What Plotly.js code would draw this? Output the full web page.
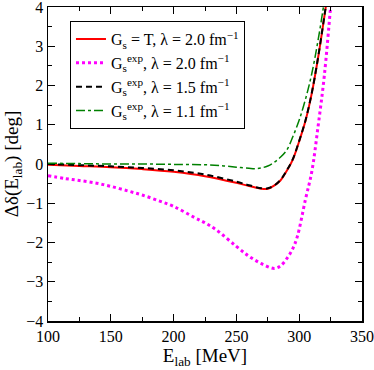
<!DOCTYPE html>
<html>
<head>
<meta charset="utf-8">
<script src="https://cdn.plot.ly/plotly-3.0.1.min.js"></script>
<style>body{margin:0;background:#fff;} #plot{width:374px;height:370px;}</style>
</head>
<body>
<div id="plot"></div>
<script>
// Energies (MeV) and phase-shift differences (deg)
var eRed = [100, 125, 150, 175, 200, 225, 250, 260, 270, 275, 280, 285, 290, 295, 300, 305, 310, 315, 320, 323];
var dRed = [-0.02, -0.05, -0.08, -0.13, -0.2, -0.31, -0.48, -0.56, -0.63, -0.63, -0.55, -0.42, -0.18, 0.12, 0.58, 1.1, 1.8, 2.7, 3.75, 4.4];

var eBlack = [100, 125, 150, 175, 200, 225, 250, 260, 270, 275, 280, 285, 290, 295, 300, 305, 310, 315, 320, 323];
var dBlack = [0.0, -0.03, -0.06, -0.1, -0.16, -0.27, -0.45, -0.54, -0.62, -0.62, -0.55, -0.41, -0.17, 0.13, 0.59, 1.11, 1.81, 2.71, 3.76, 4.4];

var eMag = [100, 113.5, 125, 138.7, 150, 164, 175, 188.4, 200, 217, 225, 234, 250, 260, 270, 280, 285, 291, 295, 298.5, 305, 310, 315, 320, 325, 327];
var dMag = [-0.3, -0.37, -0.42, -0.49, -0.57, -0.69, -0.79, -0.94, -1.08, -1.37, -1.5, -1.68, -2.1, -2.35, -2.54, -2.66, -2.6, -2.37, -2.15, -1.85, -0.9, -0.2, 0.95, 2.25, 4.0, 4.7];

var eGreen = [100, 125, 150, 175, 200, 225, 240, 250, 260, 265, 270, 275, 280, 285, 290, 295, 300, 305, 310, 315, 320, 322];
var dGreen = [0.02, 0.01, 0.0, 0.0, -0.01, -0.02, -0.05, -0.08, -0.11, -0.12, -0.1, -0.05, 0.04, 0.17, 0.35, 0.7, 1.12, 1.65, 2.3, 3.15, 4.15, 4.6];

var names = [
  "G<sub>s</sub> = T, λ = 2.0 fm<sup>−1</sup>",
  "G<sub>s</sub><sup>exp</sup>, λ = 2.0 fm<sup>−1</sup>",
  "G<sub>s</sub><sup>exp</sup>, λ = 1.5 fm<sup>−1</sup>",
  "G<sub>s</sub><sup>exp</sup>, λ = 1.1 fm<sup>−1</sup>"
];

var serif = "Liberation Serif";

var traces = [
  {x: eRed, y: dRed, name: names[0], mode: "lines", line: {color: "#ff0000", width: 2, shape: "spline"}},
  {x: eMag, y: dMag, name: names[1], mode: "lines", line: {color: "#ff00ff", width: 3, dash: "dot", shape: "spline"}},
  {x: eBlack, y: dBlack, name: names[2], mode: "lines", line: {color: "#000000", width: 2, dash: "6px,4px", shape: "spline"}},
  {x: eGreen, y: dGreen, name: names[3], mode: "lines", line: {color: "#008000", width: 1.5, dash: "dashdot", shape: "spline"}}
];

var axisCommon = {
  showgrid: false, zeroline: false, showline: true, linecolor: "#000", linewidth: 1.5,
  mirror: "allticks", ticks: "inside", ticklen: 7, tickcolor: "#000", tickwidth: 1,
  ticklabeloverflow: "allow",
  tickfont: {family: serif, size: 16, color: "#000"}
};

var layout = {
  width: 374, height: 370,
  margin: {l: 48, r: 12, t: 7, b: 49},
  paper_bgcolor: "#fff", plot_bgcolor: "#fff",
  font: {family: serif, color: "#000", size: 16},
  showlegend: true,
  legend: {
    x: 0.07, y: 0.955, xanchor: "left", yanchor: "top",
    bordercolor: "#000", borderwidth: 1, bgcolor: "#fff",
    font: {family: serif, size: 16, color: "#000"},
    tracegroupgap: 0
  },
  xaxis: Object.assign({}, axisCommon, {
    range: [100, 350], dtick: 50,
    minor: {ticks: "inside", ticklen: 4, dtick: 25, tickcolor: "#000"},
    title: {text: "E<sub>lab</sub> [MeV]", font: {family: serif, size: 19}, standoff: 4}
  }),
  yaxis: Object.assign({}, axisCommon, {
    range: [-4.0001, 4.0001], tick0: 0, dtick: 1,
    minor: {ticks: "inside", ticklen: 4, dtick: 0.5, tickcolor: "#000"},
    title: {text: "Δδ(E<sub>lab</sub>) [deg]", font: {family: serif, size: 19}, standoff: 2}
  })
};

Plotly.newPlot("plot", traces, layout, {displayModeBar: false, staticPlot: true});
</script>
</body>
</html>
